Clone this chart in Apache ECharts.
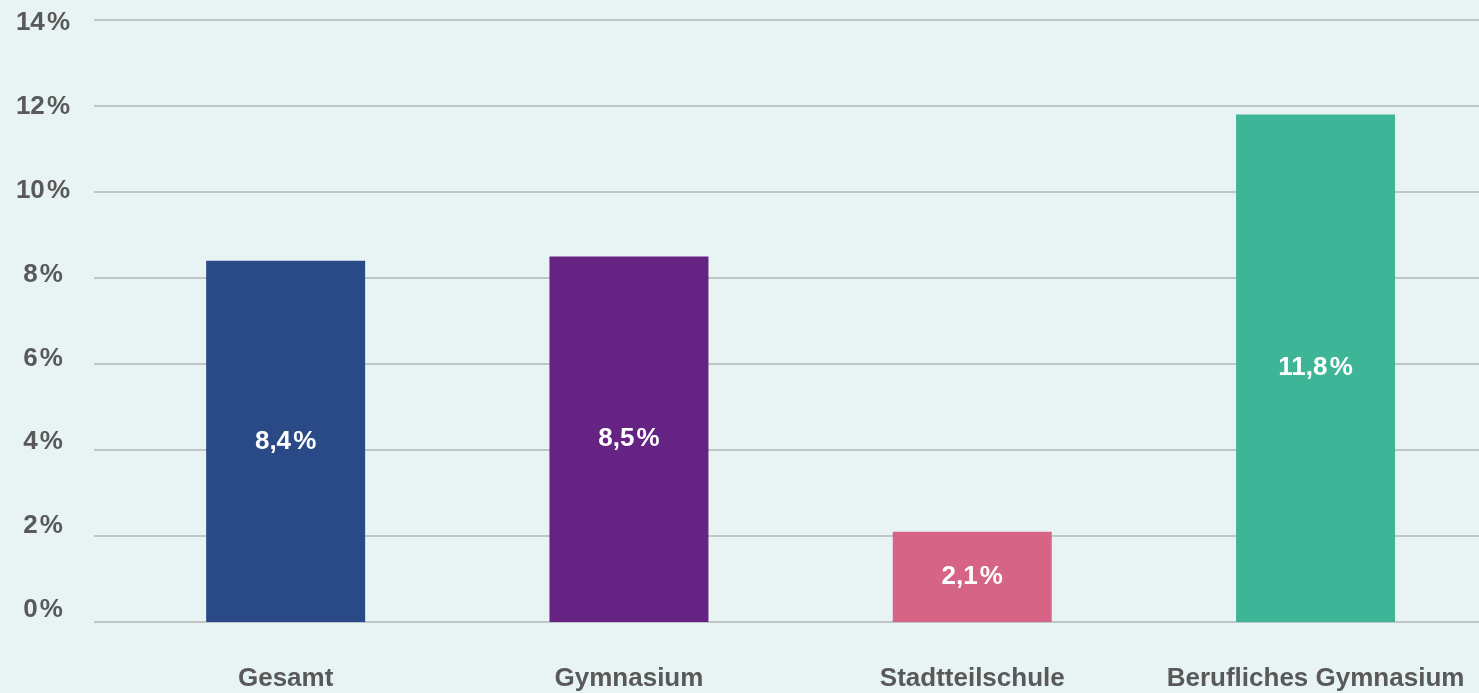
<!DOCTYPE html>
<html lang="de">
<head>
    <meta charset="UTF-8">
    <title>Anteil</title>
    <script src="https://cdn.jsdelivr.net/npm/echarts@6/dist/echarts.min.js"></script>
<style>
    html,body{margin:0;padding:0;background:#e8f4f4;}
    #chart{width:1479px;height:693px;}
</style>
</head>
<body>
<div id="chart"></div>
<script>
    var schularten = ['Gesamt', 'Gymnasium', 'Stadtteilschule', 'Berufliches Gymnasium'];
    var anteile = [8.4, 8.5, 2.1, 11.8];
    var farben = ['#2a4a87', '#652383', '#d56487', '#3fb598'];
    var yMin = 0, yMax = 14, yStep = 2;

    var schrift = 'Liberation Sans, Arial, sans-serif';
    // bars sit a bit wider than the window: 343px per category, first centre at 285px
    var balkenLinks = 114, kategorieBreite = 343.3;
    var xMax = -0.5 + (1479 - balkenLinks) / kategorieBreite;

    function prozent(v) {
        return String(v).replace('.', ',') + '\u200A%';
    }

    var chart = echarts.init(document.getElementById('chart'));
    var option = {
        backgroundColor: '#e8f4f4',
        animation: false,
        grid: [
            // grid lines
            {left: 94, right: 0, top: 20, bottom: 71},
            // y labels
            {left: 94, right: 0, top: 23, bottom: 83},
            // bars
            {left: balkenLinks, right: 0, top: 20, bottom: 71}
        ],
        xAxis: [
            {gridIndex: 0, type: 'value', show: false, min: 0, max: 1},
            {gridIndex: 1, type: 'value', show: false, min: 0, max: 1},
            {
                gridIndex: 2, type: 'value', min: -0.5, max: xMax,
                axisLine: {show: false}, axisTick: {show: false}, splitLine: {show: false},
                axisLabel: {
                    color: '#595959', fontSize: 26, fontWeight: 'bold',
                    fontFamily: schrift, margin: 44,
                    customValues: schularten.map(function (n, i) { return i; }),
                    formatter: function (v) { return schularten[Math.round(v)] || ''; }
                }
            }
        ],
        yAxis: [
            {
                gridIndex: 0, type: 'value', min: yMin, max: yMax, interval: yStep,
                axisLine: {show: false}, axisTick: {show: false}, axisLabel: {show: false},
                splitLine: {lineStyle: {color: '#b3b6b8', width: 1.5}}
            },
            {
                gridIndex: 1, type: 'value', min: yMin, max: yMax, interval: yStep,
                axisLine: {show: false}, axisTick: {show: false}, splitLine: {show: false},
                axisLabel: {
                    color: '#595959', fontSize: 26, fontWeight: 'bold', fontFamily: schrift,
                    align: 'center', margin: 51,
                    formatter: function (v) { return v + '\u200A%'; }
                }
            },
            {
                gridIndex: 2, type: 'value', min: yMin, max: yMax, interval: yStep,
                show: false, splitLine: {show: false}
            }
        ],
        series: [
            {
                type: 'bar',
                xAxisIndex: 2,
                yAxisIndex: 2,
                barWidth: 159,
                data: anteile.map(function (v, i) {
                    return {value: [i, v], itemStyle: {color: farben[i]}};
                }),
                label: {
                    show: true, position: 'inside', color: '#ffffff',
                    fontSize: 26, fontWeight: 'bold', fontFamily: schrift,
                    formatter: function (p) { return prozent(p.value[1]); }
                }
            }
        ]
    };
    chart.setOption(option);
</script>
</body>
</html>
